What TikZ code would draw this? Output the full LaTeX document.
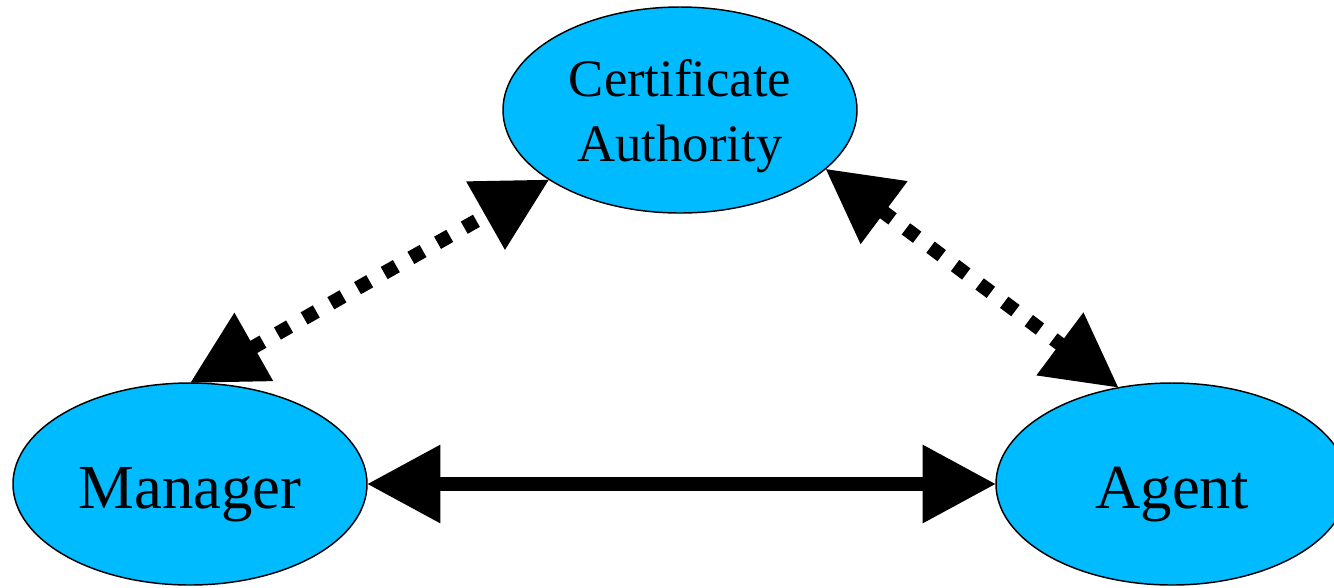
\documentclass[tikz,border=0pt]{standalone}
\usepackage{fontspec}
\setmainfont{Liberation Serif}
\usetikzlibrary{shapes.geometric,arrows.meta}
\definecolor{entityblue}{RGB}{0,187,255}
\tikzset{
  entity/.style={ellipse,draw=black,line width=1.1pt,fill=entityblue,inner sep=0pt,outer sep=0pt,text depth=0pt},
  bigtext/.style={font=\fontsize{47}{56}\selectfont,text height=36pt},
  link/.style={line width=10.5pt,{Triangle[length=55pt,width=56pt]}-{Triangle[length=55pt,width=56pt]}},
  dotlink/.style={link,dash pattern=on 10.5pt off 12.5pt}
}
\begin{document}
\begin{tikzpicture}[x=0.75pt,y=0.75pt,yscale=-1,xscale=1]
\useasboundingbox (0,0) rectangle (1334,587);

%Shape: Ellipse [ca]
\node (ca) [entity,minimum width=265.5pt,minimum height=154.5pt,align=center,font=\fontsize{39.5}{48.75}\selectfont] at (680,110) {Certificate\\Authority};
%Shape: Ellipse [mgr]
\node (mgr) [entity,bigtext,minimum width=265.5pt,minimum height=151.5pt] at (190,484) {Manager};
%Shape: Ellipse [ag]
\node (ag) [entity,bigtext,minimum width=264pt,minimum height=151.5pt] at (1172,484) {Agent};

%Straight Lines
\draw [link] (mgr.east) -- (ag.west);
%Dotted Lines
\draw [dotlink] (mgr.north) -- (ca.208);
\draw [dotlink] (ca.-22) -- (ag.119);

\end{tikzpicture}
\end{document}
